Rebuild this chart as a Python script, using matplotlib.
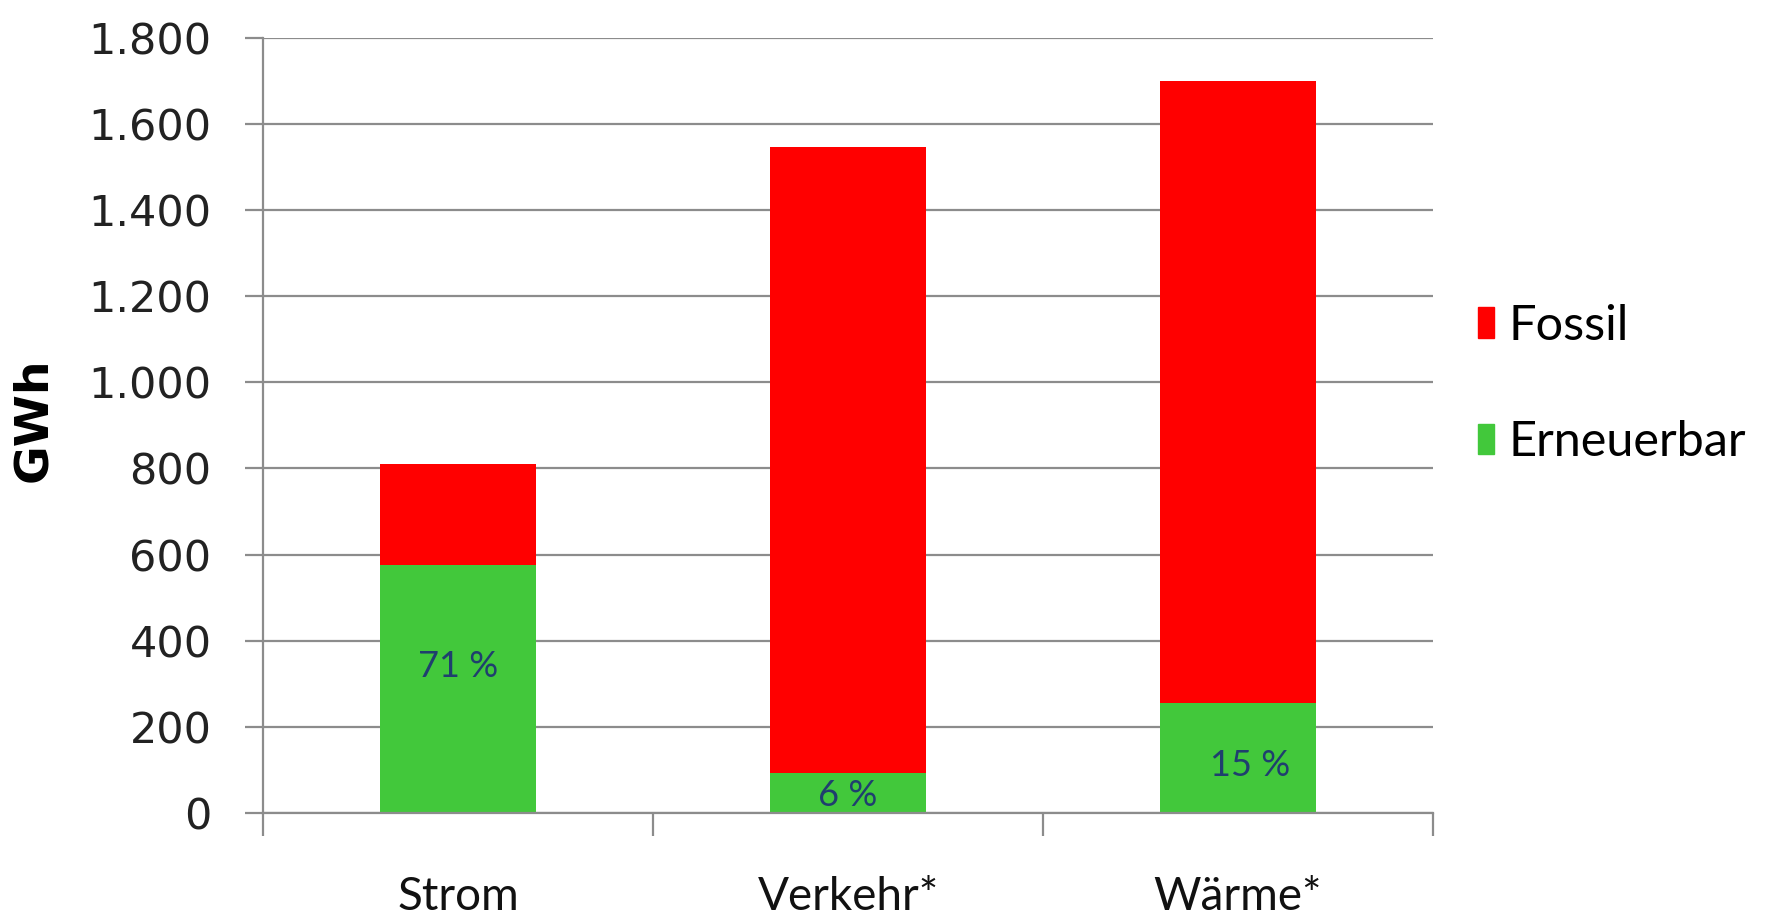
import numpy as np
import matplotlib
matplotlib.use("Agg")
import matplotlib.pyplot as plt
from matplotlib.patches import Patch
from matplotlib.ticker import FuncFormatter, FixedLocator

# Energieverbrauch nach Sektor (GWh)
sektoren = ["Strom", "Verkehr*", "Wärme*"]
erneuerbar = [575, 93, 255]
fossil = [235, 1452, 1445]
# Höhe der Prozentangabe relativ zum grünen Balken
pct_hoehe = [0.59, 0.43, 0.435]
pct_versatz = [0.0, 0.0, 0.03]
y_ticks = [0, 200, 400, 600, 800, 1000, 1200, 1400, 1600, 1800]

rot = "#FF0000"
gruen = "#42C83B"
grau = "#8C8C8C"
txt_font = ["Lato", "DejaVu Sans"]

fig = plt.figure(figsize=(17.85, 9.19), dpi=100)
ax = fig.add_axes([263/1785, 1 - 813/919, (1433 - 263)/1785, (813 - 37.6)/919])

x = np.arange(len(sektoren))
ax.bar(x, erneuerbar, width=0.4, color=gruen, zorder=2)
ax.bar(x, fossil, width=0.4, bottom=erneuerbar, color=rot, zorder=2)

for i in range(len(sektoren)):
    anteil = round(100 * erneuerbar[i] / (erneuerbar[i] + fossil[i]))
    ax.text(x[i] + pct_versatz[i], erneuerbar[i] * pct_hoehe[i], f"{anteil} %",
            ha="center", va="center", fontsize=26, color="#1F3F6E",
            family=txt_font, zorder=3)

ax.set_xlim(-0.5, 2.5)
ax.set_ylim(0, 1800)
ax.yaxis.set_major_locator(FixedLocator(y_ticks))
ax.yaxis.set_major_formatter(FuncFormatter(lambda v, p: f"{int(v):,}".replace(",", ".")))
ax.grid(axis="y", color=grau, linewidth=1.6)
ax.set_axisbelow(True)

for s in ["top", "right"]:
    ax.spines[s].set_visible(False)
for s in ["left", "bottom"]:
    ax.spines[s].set_color(grau)
    ax.spines[s].set_linewidth(1.6)

ax.tick_params(axis="y", length=13, width=1.6, color=grau, pad=24,
               labelsize=31, labelcolor="#222222")
for lbl in ax.get_yticklabels():
    lbl.set_family("DejaVu Sans")

# Kategoriegrenzen als Striche, Beschriftung in der Mitte
ax.xaxis.set_major_locator(FixedLocator([-0.5, 0.5, 1.5, 2.5]))
ax.xaxis.set_minor_locator(FixedLocator(x))
ax.set_xticklabels([])
ax.set_xticklabels(sektoren, minor=True)
ax.tick_params(axis="x", which="major", length=16.5, width=1.6, color=grau)
ax.tick_params(axis="x", which="minor", length=0, pad=45, labelsize=33,
               labelcolor="#111111")
for lbl in ax.get_xticklabels(minor=True):
    lbl.set_family(txt_font)

fig.text(34/1785, 1 - 420/919, "GWh", rotation=90, ha="center", va="center",
         fontsize=34, fontweight="bold", family="DejaVu Sans")

handles = [Patch(color=rot, label="Fossil"), Patch(color=gruen, label="Erneuerbar")]
ax.legend(handles=handles, loc="center left", bbox_to_anchor=(1478/1785, 1 - 384/919),
          bbox_transform=fig.transFigure, frameon=False, borderpad=0,
          borderaxespad=0, handlelength=0.33, handleheight=0.58,
          handletextpad=0.3, labelspacing=1.5,
          prop={"family": txt_font, "size": 35})

fig.savefig("out.png", dpi=100)
